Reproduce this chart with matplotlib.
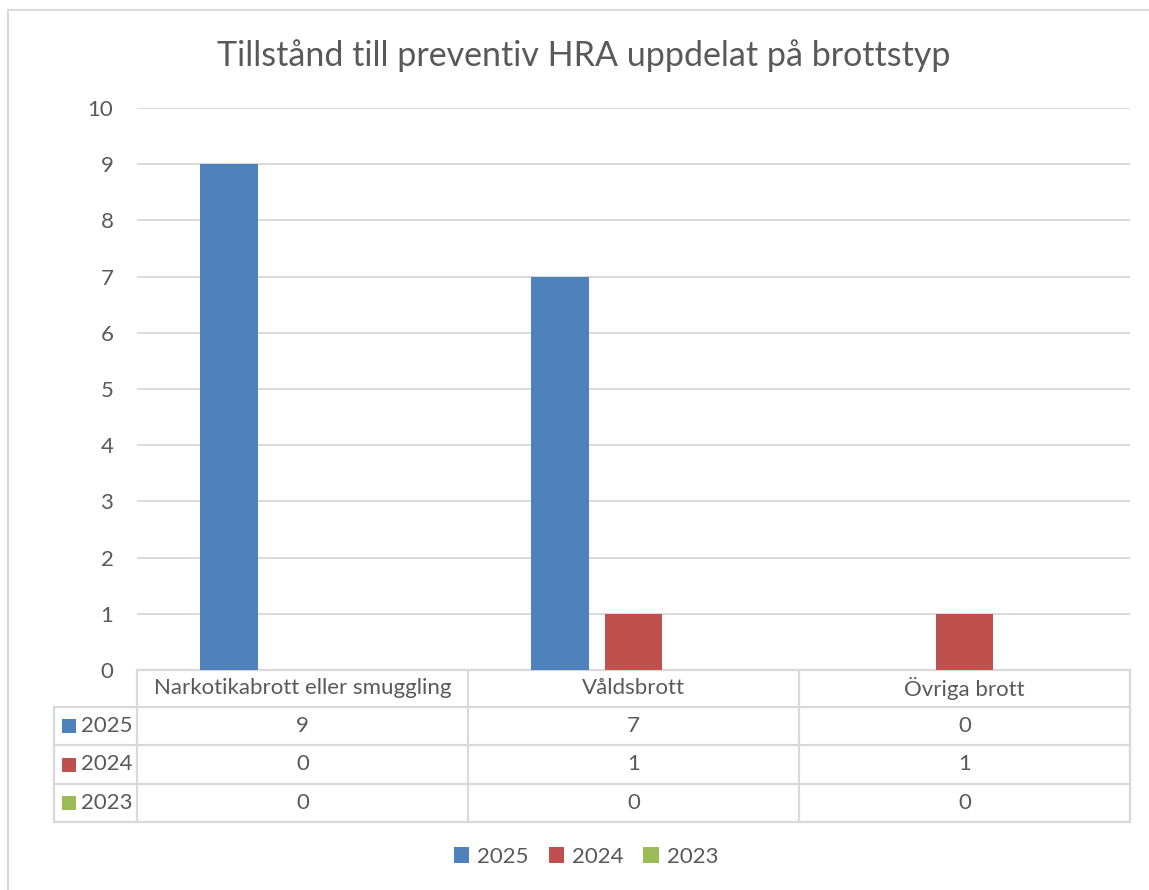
import matplotlib
matplotlib.use("Agg")
import matplotlib.pyplot as plt
import matplotlib.transforms as mtransforms
from matplotlib.patches import Rectangle
import numpy as np

# data
categories = ["Narkotikabrott eller smuggling", "Våldsbrott", "Övriga brott"]
years = ["2025", "2024", "2023"]
values_2025 = [9, 7, 0]
values_2024 = [0, 1, 1]
values_2023 = [0, 0, 0]
series = [values_2025, values_2024, values_2023]
colors = ["#4F81BD", "#C0504D", "#9BBB59"]
title = "Tillstånd till preventiv HRA uppdelat på brottstyp"

textColor = "#595959"
lineColor = "#D9D9D9"
plt.rcParams["font.family"] = ["Lato", "DejaVu Sans"]
fs = 16

W, H = 1149, 890
fig = plt.figure(figsize=(W / 100, H / 100), dpi=100)

# helpers to go from pixel positions to figure/axes fractions
def fx(px): return px / W
def fy(py): return (H - py) / H

axLeft, axRight, axTop, axBottom = 137, 1130, 108, 670
ax = fig.add_axes([fx(axLeft), fy(axBottom), fx(axRight - axLeft), (axBottom - axTop) / H])

x = np.arange(len(categories))
offsets = [-0.222, 0.0, 0.222]
barWidth = 0.175
bars = []
for vals, off, col, yr in zip(series, offsets, colors, years):
    b = ax.bar(x + off, vals, barWidth, color=col, label=yr, zorder=3)
    bars.append(b)

ax.set_xlim(-0.5, len(categories) - 0.5)
ax.set_ylim(0, 10)
ax.set_yticks(range(0, 11))
ax.set_xticks([])
ax.tick_params(axis="y", length=0, pad=17, labelsize=fs, labelcolor=textColor)
for s in ax.spines.values():
    s.set_visible(False)
ax.grid(axis="y", color=lineColor, linewidth=1.4, zorder=0)

# data table below the plot
def ay(py): return (axBottom - py) / (axBottom - axTop)
trans = mtransforms.blended_transform_factory(ax.transData, ax.transAxes)
rowEdges = [670, 707, 745, 784, 822]
tableLeft = -0.5 + (54 - axLeft) / ((axRight - axLeft) / len(categories))
lineKw = dict(color=lineColor, linewidth=1.6, transform=trans, clip_on=False, zorder=2)

# horizontal lines
ax.plot([-0.5, 2.5], [ay(rowEdges[0])] * 2, **lineKw)
for r in rowEdges[1:]:
    ax.plot([tableLeft, 2.5], [ay(r)] * 2, **lineKw)
# vertical lines
for xe in np.arange(len(categories) + 1) - 0.5:
    ax.plot([xe, xe], [ay(rowEdges[0]), ay(rowEdges[-1])], **lineKw)
ax.plot([tableLeft, tableLeft], [ay(rowEdges[1]), ay(rowEdges[-1])], **lineKw)

# header
headerY = ay((rowEdges[0] + rowEdges[1]) / 2)
for i, cat in enumerate(categories):
    ax.text(i, headerY, cat, transform=trans, ha="center", va="center",
            fontsize=fs, color=textColor)

# rows
pxPerUnit = (axRight - axLeft) / len(categories)
sqX = -0.5 + (62 - axLeft) / pxPerUnit
sqW = 14 / pxPerUnit
sqH = 14 / (axBottom - axTop)
labelX = -0.5 + (81 - axLeft) / pxPerUnit
for r, (yr, vals, col) in enumerate(zip(years, series, colors)):
    cy = ay((rowEdges[r + 1] + rowEdges[r + 2]) / 2)
    ax.add_patch(Rectangle((sqX, cy - sqH / 2), sqW, sqH, facecolor=col,
                           edgecolor="none", transform=trans, clip_on=False))
    ax.text(labelX, cy, yr, transform=trans, ha="left", va="center",
            fontsize=fs, color=textColor)
    for i, v in enumerate(vals):
        ax.text(i, cy, str(v), transform=trans, ha="center", va="center",
                fontsize=fs, color=textColor)

# title
fig.text(fx(584), fy(56), title, ha="center", va="center", fontsize=24.5, color=textColor)

# legend
leg = fig.legend(handles=bars, labels=years, loc="center", bbox_to_anchor=(fx(586), fy(857)),
                 ncol=3, frameon=False, fontsize=fs, handlelength=0.7, handleheight=0.7,
                 handletextpad=0.35, columnspacing=0.9)
for t in leg.get_texts():
    t.set_color(textColor)

# outer chart border
fig.patches.append(Rectangle((fx(8), -0.1), 2, fy(10) + 0.1, fill=False,
                             edgecolor=lineColor, linewidth=1.5, transform=fig.transFigure))

fig.savefig("out.png", dpi=100, facecolor="white")
